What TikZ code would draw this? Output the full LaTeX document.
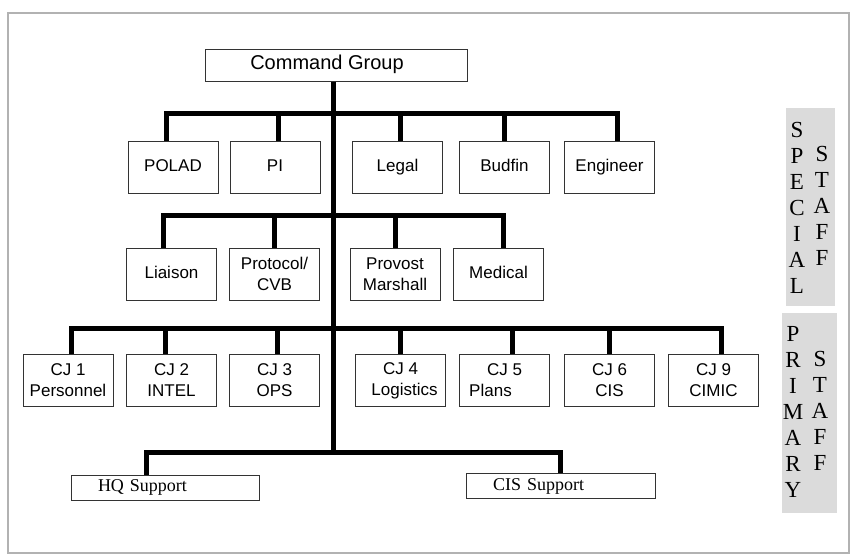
\documentclass[tikz,border=0pt]{standalone}
\usepackage{fontspec}
\setmainfont{Liberation Serif}
\setsansfont{Liberation Sans}

\tikzset{
  unit/.style={draw=black!80, line width=0.5pt, fill=white, align=center,
    font=\sffamily\fontsize{8.5}{10.5}\selectfont,
    minimum width=45pt, minimum height=26pt, inner sep=1pt},
  support/.style={draw=black!80, line width=0.5pt, align=left,
    font=\fontsize{9}{11}\selectfont, text width=67pt,
    inner xsep=13.5pt, inner ysep=0pt, minimum height=12.5pt},
  link/.style={line width=2.5pt},
  staffcol/.style={align=center, inner sep=0pt,
    font=\fontsize{11.5}{13}\selectfont},
}

\begin{document}
\begin{tikzpicture}[x=0.5pt, y=-0.5pt]
  \useasboundingbox (0,0) rectangle (851,557);
  \draw[black!30, line width=0.6pt] (8,13) rectangle (849,553);
  \fill[black!14] (786,108) rectangle (835,306);
  \fill[black!14] (782,313) rectangle (837,513);

  %Define nodes
  \node[unit, minimum width=131pt, minimum height=16pt,
    font=\sffamily\fontsize{10}{12}\selectfont] (cmd) at (336,65) {Command Group\hspace*{9pt}\strut};

  \node[unit] (polad)    at (173,167.5)   {POLAD\strut};
  \node[unit] (pi)       at (275,167.5)   {PI\strut};
  \node[unit] (legal)    at (397.5,167.5) {Legal\strut};
  \node[unit] (budfin)   at (504.5,167.5) {Budfin\strut};
  \node[unit] (engineer) at (609.5,167.5) {Engineer\strut};

  \node[unit] (liaison)  at (171.5,274) {Liaison\strut};
  \node[unit] (protocol) at (274.5,274) {Protocol/\\CVB};
  \node[unit] (provost)  at (395,274)   {Provost\\Marshall};
  \node[unit] (medical)  at (498.5,274) {Medical\strut};

  \node[unit] (cj1) at (68,380.5)    {CJ 1\\Personnel};
  \node[unit] (cj2) at (171.5,380.5) {CJ 2\\INTEL};
  \node[unit] (cj3) at (274.5,380.5) {CJ 3\\OPS};
  \node[unit] (cj4) at (400.5,380.5) {CJ 4\\\hspace*{4pt}Logistics};
  \node[unit] (cj5) at (504.5,380.5) {CJ 5\\Plans\hspace*{14pt}};
  \node[unit] (cj6) at (609.5,380.5) {CJ 6\\CIS};
  \node[unit] (cj9) at (713.5,380.5) {CJ 9\\CIMIC};

  \node[support] (hq)  at (165,487.5) {HQ Support};
  \node[support, text width=67.5pt] (cis) at (560.5,486) {CIS Support};

  \node[staffcol] (special) at (797,207.5) {S\\P\\E\\C\\I\\A\\L};
  \node[staffcol] (sstaff)  at (822,205.5) {S\\T\\A\\F\\F};
  \node[staffcol] (primary) at (793,411.5) {P\\R\\I\\M\\A\\R\\Y};
  \node[staffcol] (pstaff)  at (820,410.5) {S\\T\\A\\F\\F};

  \coordinate (t1) at (333,113);
  \coordinate (t2) at (333,215);
  \coordinate (t3) at (333,328);
  \coordinate (t4) at (333,452);

  % Connect the nodes
  \draw[link] (t4 |- cmd.south) -- (t4);

  \draw[link] ([xshift=-3.5pt]polad.north) |- (t1) -| ([xshift=4pt]engineer.north);
  \draw[link] ([xshift=1.5pt]pi.north) -- ([xshift=1.5pt]pi.north |- t1);
  \draw[link] ([xshift=1.5pt]legal.north) -- ([xshift=1.5pt]legal.north |- t1);
  \draw[link] (budfin.north) -- (budfin.north |- t1);

  \draw[link] ([xshift=-4pt]liaison.north) |- (t2) -| ([xshift=2.5pt]medical.north);
  \draw[link] (protocol.north) -- (protocol.north |- t2);
  \draw[link] (provost.north) -- (provost.north |- t2);

  \draw[link] ([xshift=1.5pt]cj1.north) |- (t3) -| ([xshift=4pt]cj9.north);
  \draw[link] ([xshift=-3pt]cj2.north) -- ([xshift=-3pt]cj2.north |- t3);
  \draw[link] ([xshift=1.5pt]cj3.north) -- ([xshift=1.5pt]cj3.north |- t3);
  \draw[link] (cj4.north) -- (cj4.north |- t3);
  \draw[link] ([xshift=4pt]cj5.north) -- ([xshift=4pt]cj5.north |- t3);
  \draw[link] (cj6.north) -- (cj6.north |- t3);

  \draw[link] ([xshift=-9.5pt]hq.north) |- (t4) -| (cis.north);
\end{tikzpicture}
\end{document}
